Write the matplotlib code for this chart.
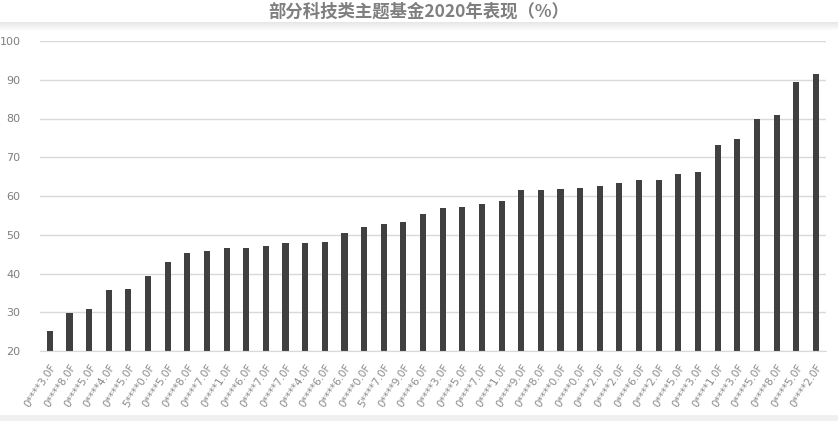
import matplotlib
matplotlib.use("Agg")
import matplotlib.pyplot as plt
import numpy as np

title = "部分科技类主题基金2020年表现（%）"
labels = ["0****3.0F", "0****8.0F", "0****5.0F", "0****4.0F", "0****5.0F",
          "5****0.0F", "0****5.0F", "0****8.0F", "0****7.0F", "0****1.0F",
          "0****6.0F", "0****7.0F", "0****7.0F", "0****4.0F", "0****6.0F",
          "0****6.0F", "0****0.0F", "5****7.0F", "0****9.0F", "0****6.0F",
          "0****3.0F", "0****5.0F", "0****7.0F", "0****1.0F", "0****9.0F",
          "0****8.0F", "0****0.0F", "0****0.0F", "0****2.0F", "0****2.0F",
          "0****6.0F", "0****2.0F", "0****5.0F", "0****3.0F", "0****1.0F",
          "0****3.0F", "0****5.0F", "0****8.0F", "0****5.0F", "0****2.0F"]
values = [25.2, 29.7, 30.8, 35.7, 36.0, 39.4, 43.0, 45.4, 45.9, 46.7,
          46.7, 47.0, 48.0, 48.0, 48.2, 50.4, 52.1, 52.7, 53.4, 55.3,
          56.8, 57.1, 57.9, 58.6, 61.5, 61.5, 61.7, 62.0, 62.5, 63.3,
          64.1, 64.1, 65.7, 66.1, 73.2, 74.6, 80.0, 81.0, 89.3, 91.4]
yticks = [20, 30, 40, 50, 60, 70, 80, 90, 100]

fig = plt.figure(figsize=(8.38, 4.21), dpi=100)
fig.patch.set_facecolor("white")

# soft shading below the title and at bottom
sh = fig.add_axes([0, 1 - 31 / 421, 1, 9 / 421])
grad = np.linspace(0.90, 1.0, 50).reshape(-1, 1)
sh.imshow(np.repeat(grad, 2, axis=1), aspect="auto", cmap="gray", vmin=0, vmax=1,
          extent=[0, 1, 0, 1])
sh.axis("off")
sb = fig.add_axes([0, 0, 1, 6 / 421])
sb.set_facecolor("#f0f0f0")
sb.set_xticks([]); sb.set_yticks([])
for s in sb.spines.values():
    s.set_visible(False)

ax = fig.add_axes([40 / 838, 1 - 351 / 421, 785.7 / 838, 310 / 421])
x = np.arange(len(values))
ax.bar(x, values, width=0.31, color="#404040", zorder=3, bottom=0)
ax.set_ylim(20, 100)
ax.set_xlim(-0.5, len(values) - 0.5)
ax.set_yticks(yticks)
ax.set_yticklabels([str(v) for v in yticks], fontsize=8, color="#7f7f7f",
                   family=["Liberation Sans Narrow", "DejaVu Sans"])
ax.yaxis.grid(True, color="#d9d9d9", linewidth=1, zorder=0)
ax.tick_params(axis="y", length=0, pad=14)
ax.set_xticks(x)
ax.set_xticklabels(labels, rotation=57, ha="right", rotation_mode="anchor",
                   fontsize=7.5, color="#8a8a8a", family="DejaVu Sans")
ax.tick_params(axis="x", length=0, pad=8)
for s in ["top", "right", "left"]:
    ax.spines[s].set_visible(False)
ax.spines["bottom"].set_color("#d9d9d9")
ax.spines["bottom"].set_zorder(4)

fig.text(0.5, 1 - 12 / 421, title, ha="center", va="center", fontsize=12.5,
         fontweight="bold", color="#7f7f7f",
         family=["Noto Sans CJK SC", "DejaVu Sans"])

fig.savefig("out.png", dpi=100)
